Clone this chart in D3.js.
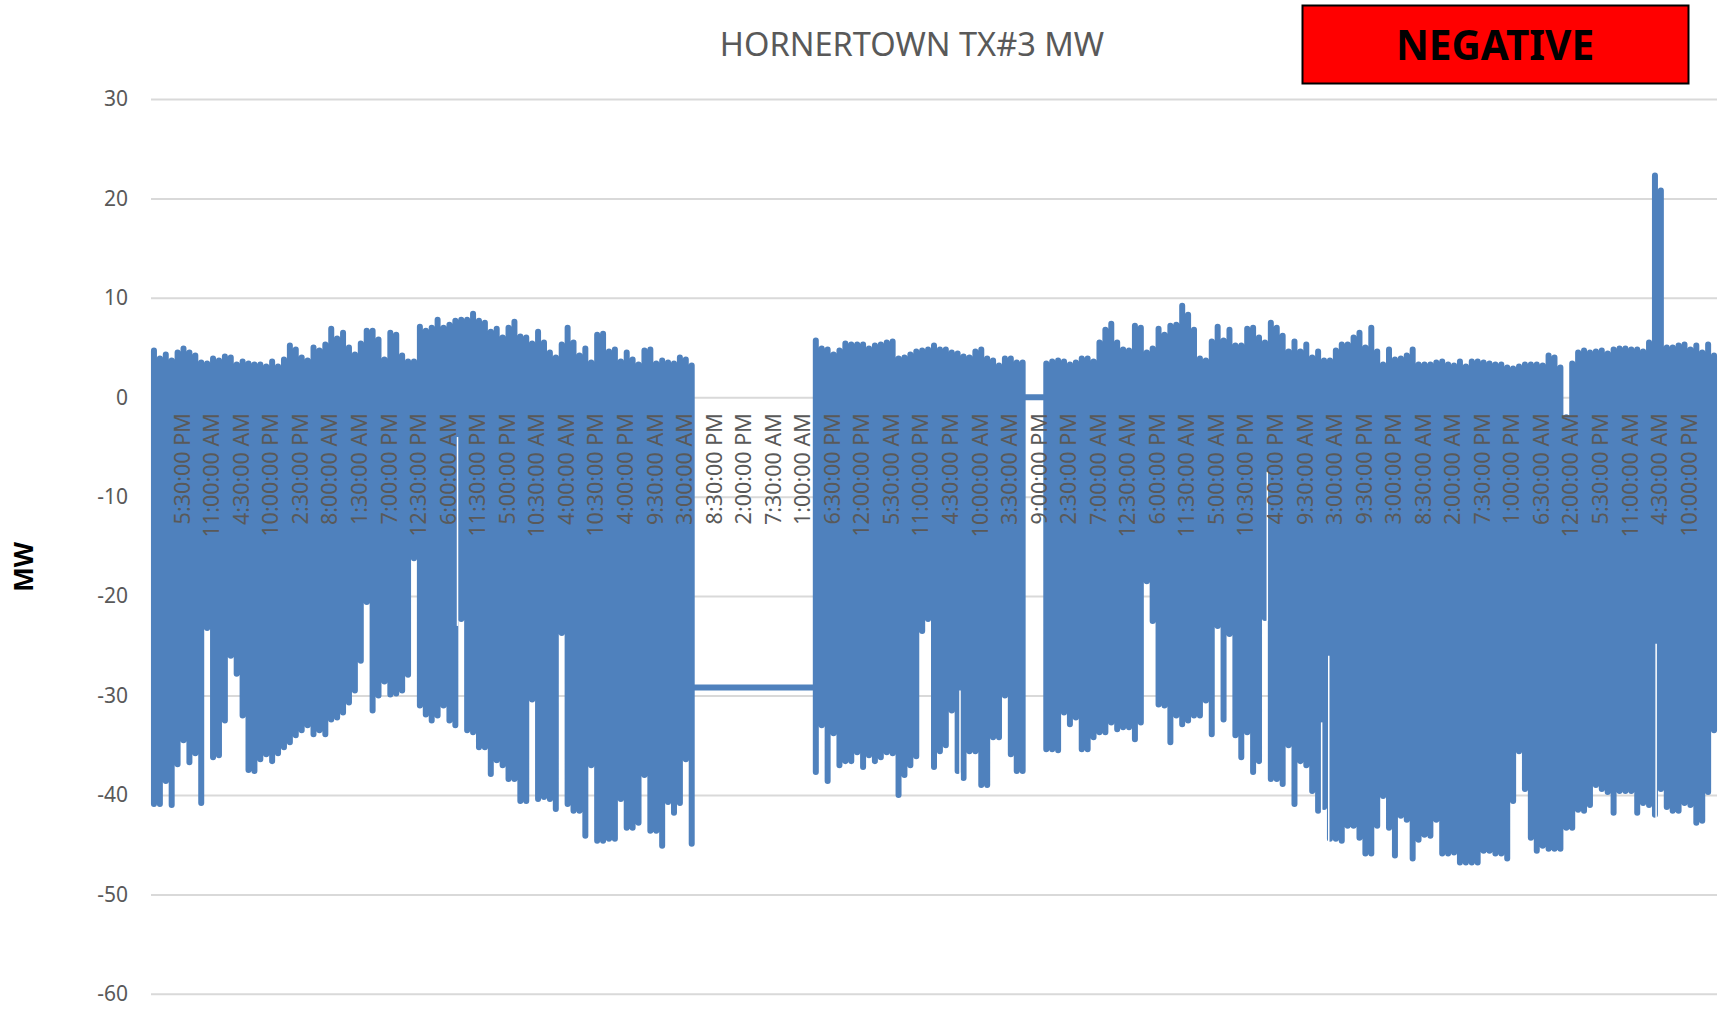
<!DOCTYPE html>
<html>
<head>
<meta charset="utf-8">
<title>HORNERTOWN TX#3 MW</title>
<script src="https://cdn.jsdelivr.net/npm/d3@7"></script>
<style>
    body { margin: 0; background: #fff; }
    svg { display: block; font-family: "Noto Sans", sans-serif; }
</style>
</head>
<body>
<div id="chart"></div>
<script>
const chartTitle = "HORNERTOWN TX#3 MW";
const badgeText = "NEGATIVE";
const yLabel = "MW";
const yTicks = [30, 20, 10, 0, -10, -20, -30, -40, -50, -60];

// category labels, one every 5 samples
const tickLabels = [
    "5:30:00 PM", "11:00:00 AM", "4:30:00 AM", "10:00:00 PM", "2:30:00 PM", "8:00:00 AM", "1:30:00 AM", "7:00:00 PM",
    "12:30:00 PM", "6:00:00 AM", "11:30:00 PM", "5:00:00 PM", "10:30:00 AM", "4:00:00 AM", "10:30:00 PM", "4:00:00 PM",
    "9:30:00 AM", "3:00:00 AM", "8:30:00 PM", "2:00:00 PM", "7:30:00 AM", "1:00:00 AM", "6:30:00 PM", "12:00:00 PM",
    "5:30:00 AM", "11:00:00 PM", "4:30:00 PM", "10:00:00 AM", "3:30:00 AM", "9:00:00 PM", "2:30:00 PM", "7:00:00 AM",
    "12:30:00 AM", "6:00:00 PM", "11:30:00 AM", "5:00:00 AM", "10:30:00 PM", "4:00:00 PM", "9:30:00 AM", "3:00:00 AM",
    "9:30:00 PM", "3:00:00 PM", "8:30:00 AM", "2:00:00 AM", "7:30:00 PM", "1:00:00 PM", "6:30:00 AM", "12:00:00 AM",
    "5:30:00 PM", "11:00:00 AM", "4:30:00 AM", "10:00:00 PM"
];

// highest MW reading in each sample window
const highValues = [
    4.7, 3.9, 4.3, 3.7, 4.5, 4.9, 4.5, 4.2, 3.5, 3.4,
    3.9, 3.7, 4.1, 4.0, 3.3, 3.6, 3.4, 3.3, 3.3, 3.1,
    3.6, 3.1, 3.8, 5.2, 4.8, 4.0, 3.7, 5.0, 4.7, 5.3,
    6.9, 5.9, 6.5, 5.0, 4.3, 5.4, 6.7, 6.7, 5.8, 3.8,
    6.5, 6.3, 4.2, 3.6, 3.6, 7.1, 6.7, 7.0, 7.8, 7.0,
    7.3, 7.7, 7.8, 7.8, 8.4, 7.7, 7.5, 6.6, 6.9, 6.0,
    7.0, 7.6, 6.1, 6.0, 5.4, 6.6, 5.5, 4.5, 4.0, 5.3,
    7.0, 5.5, 4.2, 4.9, 3.5, 6.3, 6.4, 4.6, 4.8, 3.6,
    4.5, 3.8, 3.3, 4.7, 4.8, 3.4, 3.7, 3.5, 3.4, 4.0,
    3.8, 3.2, -29.2, -29.2, -29.2, -29.2, -29.2, -29.2, -29.2, -29.2,
    -29.2, -29.2, -29.2, -29.2, -29.2, -29.2, -29.2, -29.2, -29.2, -29.2,
    -29.2, -29.2, 5.7, 4.9, 4.8, 4.3, 4.7, 5.4, 5.3, 5.3,
    5.3, 4.9, 5.2, 5.3, 5.5, 5.6, 3.9, 4.0, 4.3, 4.6,
    4.7, 4.8, 5.2, 4.8, 4.8, 4.5, 4.4, 4.1, 4.0, 4.6,
    4.8, 3.9, 3.7, 3.2, 3.9, 3.9, 3.5, 3.5, 0, 0,
    0, 3.4, 3.6, 3.7, 3.6, 3.3, 3.5, 3.9, 3.9, 3.6,
    5.5, 6.8, 7.4, 5.5, 4.8, 4.7, 7.2, 7.0, 4.5, 4.9,
    6.9, 6.3, 7.2, 7.3, 9.2, 8.3, 6.8, 3.9, 3.7, 5.6,
    7.1, 5.7, 6.8, 5.2, 5.2, 6.9, 7.0, 6.0, 5.5, 7.5,
    7.0, 6.2, 4.6, 5.6, 4.6, 5.3, 4.0, 4.6, 3.7, 3.7,
    4.7, 5.3, 5.3, 6.0, 6.5, 5.0, 7.0, 4.6, 3.3, 4.8,
    3.8, 3.9, 4.2, 4.8, 3.3, 3.3, 3.3, 3.5, 3.6, 3.3,
    3.2, 3.6, 3.1, 3.6, 3.6, 3.5, 3.4, 3.3, 3.3, 3.0,
    2.9, 3.1, 3.3, 3.3, 3.3, 3.2, 4.2, 4.0, 3.0, -2.0,
    3.4, 4.5, 4.7, 4.5, 4.6, 4.7, 4.4, 4.8, 4.9, 4.9,
    4.8, 4.8, 4.6, 5.5, 22.3, 20.8, 5.0, 5.0, 5.2, 5.3,
    4.8, 5.2, 4.5, 5.3, 4.2
];

// lowest MW reading in each sample window
const lowValues = [
    -40.9, -40.9, -38.6, -41, -36.9, -34.5, -36.7, -35.8, -40.8, -23.2,
    -36.2, -36, -32.5, -26, -27.8, -32, -37.5, -37.6, -36.4, -35.9,
    -36.6, -35.8, -35.2, -34.7, -34, -33.5, -33, -33.9, -33.5, -33.9,
    -32.4, -32.2, -31.7, -30.7, -29.5, -26.5, -20.6, -31.5, -30, -28.6,
    -29.9, -29.8, -29.5, -27.9, -16.2, -31, -31.9, -32.5, -32, -31,
    -32.5, -33, -22.3, -33.5, -33.7, -35.2, -35.2, -37.9, -36.5, -37,
    -38.4, -38.4, -40.6, -40.6, -30.4, -40.4, -40.2, -40.4, -41.4, -23.7,
    -40.9, -41.6, -41.6, -44.1, -37, -44.6, -44.6, -44.4, -44.4, -40.4,
    -43.3, -43.3, -42.8, -38, -43.6, -43.6, -45.1, -40.7, -41.8, -40.8,
    -36.4, -44.9, -29.2, -29.2, -29.2, -29.2, -29.2, -29.2, -29.2, -29.2,
    -29.2, -29.2, -29.2, -29.2, -29.2, -29.2, -29.2, -29.2, -29.2, -29.2,
    -29.2, -29.2, -37.7, -33, -38.6, -33.8, -37, -36.6, -36.6, -35.7,
    -37.2, -36, -36.6, -36.2, -35.7, -35.8, -40, -38, -37, -36.1,
    -23.5, -22.3, -37.2, -35.6, -35, -31.5, -37.6, -38.3, -35.6, -35.6,
    -39, -39, -34.2, -34.2, -30, -35.9, -37.6, -37.6, 0, 0,
    0, -35.4, -35.4, -35.5, -31.7, -32.9, -32.2, -35.4, -35.4, -34.2,
    -33.7, -33.7, -32.7, -33.4, -33.2, -33.2, -34.4, -32.7, -18.5, -22.5,
    -30.9, -31, -34.7, -32, -32.9, -32.5, -32, -32, -30.5, -33.9,
    -23, -32.4, -23.8, -34, -36.2, -33.7, -37.7, -36.6, -22.2, -38.4,
    -38.4, -38.9, -35, -40.9, -36.6, -37, -39.6, -41.6, -41.2, -44.4,
    -44.4, -44.6, -43.1, -43.1, -44.3, -45.9, -45.9, -43.1, -40.1, -43.3,
    -46.1, -42.1, -42.5, -46.4, -44.5, -44, -44.1, -42.5, -45.9, -45.9,
    -45.8, -46.8, -46.8, -46.8, -46.8, -45.6, -45.6, -45.9, -45.9, -46.4,
    -40.6, -35.6, -39.4, -44.3, -45.6, -45.1, -45.4, -45.4, -45.4, -43.3,
    -43.3, -41.5, -41.6, -41, -39, -39.4, -39.7, -41.8, -39.6, -39.6,
    -39.6, -41.8, -40.8, -41, -42, -39.4, -41.2, -41.6, -41.6, -40.8,
    -41, -42.8, -42.6, -39.7, -33.5
];

// narrow dropouts, thinner than one sample window
const slitSlots = [51.87, 136.9, 188.9, 198.1, 199.3, 254.7];
const slitTops = [-4, -29.5, -7.5, -32.7, -26, -24.8];
const slitBottoms = [-23, -38.5, -22.5, -42, -45, -43];

const width = 1719;
const height = 1009;
const margin = { left: 151, right: 2 };
const lineColor = "#4f81bd";
const textColor = "#595959";

const svg = d3.select("#chart").append("svg")
    .attr("width", width)
    .attr("height", height);

const x = d3.scaleLinear()
    .domain([0, highValues.length])
    .range([margin.left, width - margin.right]);

const y = d3.scaleLinear()
    .domain([-60, 30])
    .range([993.8, 99]);

// Gridlines
const grid = svg.append("g")
    .attr("transform", `translate(${margin.left},0)`)
    .call(d3.axisRight(y).tickValues(yTicks).tickSize(width - margin.left - margin.right).tickFormat(""));
grid.select(".domain").remove();
grid.selectAll("line").attr("stroke", "#d9d9d9").attr("stroke-width", 2);

// Each sample is one vertical stroke from high to low, flat stretches join up
// and run into the block on either side
const points = [];
highValues.forEach((hi, i) => {
    const lo = lowValues[i];
    const prevFlat = i > 0 && highValues[i - 1] === lowValues[i - 1];
    if (hi === lo) {
        if (!prevFlat) points.push({ i: i - 1, v: hi });
        points.push({ i, v: hi });
    } else {
        if (prevFlat) points.push({ i, v: highValues[i - 1] }, null);
        points.push({ i, v: hi }, { i, v: lo }, null);
    }
});

const line = d3.line()
    .defined(d => d !== null)
    .x(d => x(d.i + 0.5))
    .y(d => y(d.v));

svg.append("path")
    .attr("d", line(points))
    .attr("fill", "none")
    .attr("stroke", lineColor)
    .attr("stroke-width", 6)
    .attr("stroke-linecap", "round")
    .attr("stroke-linejoin", "round");

svg.append("g")
    .selectAll("line")
    .data(slitSlots)
    .join("line")
    .attr("x1", d => x(d))
    .attr("x2", d => x(d))
    .attr("y1", (d, k) => y(slitTops[k]))
    .attr("y2", (d, k) => y(slitBottoms[k]))
    .attr("stroke", "#fff")
    .attr("stroke-width", 1.5);

// Y axis
const yAxis = svg.append("g")
    .attr("transform", `translate(${margin.left},0)`)
    .call(d3.axisLeft(y).tickValues(yTicks).tickSize(0).tickPadding(23).tickFormat(d => String(d)));
yAxis.select(".domain").remove();
yAxis.selectAll("text")
    .attr("fill", textColor)
    .attr("font-family", '"Noto Sans", sans-serif')
    .attr("font-size", 21);

// X axis labels sit just under the zero line, rotated
const slots = tickLabels.map((d, k) => 5.2 + 5 * k);
const xAxis = svg.append("g")
    .attr("transform", `translate(0,${y(0)})`)
    .call(d3.axisBottom(x).tickValues(slots).tickSize(0).tickFormat((d, k) => tickLabels[k]));
xAxis.select(".domain").remove();
xAxis.selectAll("text")
    .attr("transform", "rotate(-90)")
    .attr("x", -16)
    .attr("y", 0)
    .attr("dy", "0.35em")
    .attr("text-anchor", "end")
    .attr("fill", textColor)
    .attr("font-family", '"Noto Sans", sans-serif')
    .attr("font-size", 21.5);

// Title
svg.append("text")
    .attr("x", 912)
    .attr("y", 55.5)
    .attr("text-anchor", "middle")
    .attr("fill", textColor)
    .attr("font-size", 32.6)
    .text(chartTitle);

// Y axis title
svg.append("text")
    .attr("transform", "translate(33,567) rotate(-90)")
    .attr("text-anchor", "middle")
    .attr("font-weight", "bold")
    .attr("font-size", 26)
    .text(yLabel);

// Red badge
svg.append("rect")
    .attr("x", 1302.5)
    .attr("y", 5.5)
    .attr("width", 386)
    .attr("height", 78)
    .attr("fill", "#ff0000")
    .attr("stroke", "#000")
    .attr("stroke-width", 2);

svg.append("text")
    .attr("x", 1495)
    .attr("y", 60)
    .attr("text-anchor", "middle")
    .attr("font-weight", "bold")
    .attr("font-size", 40.5)
    .text(badgeText);
</script>
</body>
</html>
